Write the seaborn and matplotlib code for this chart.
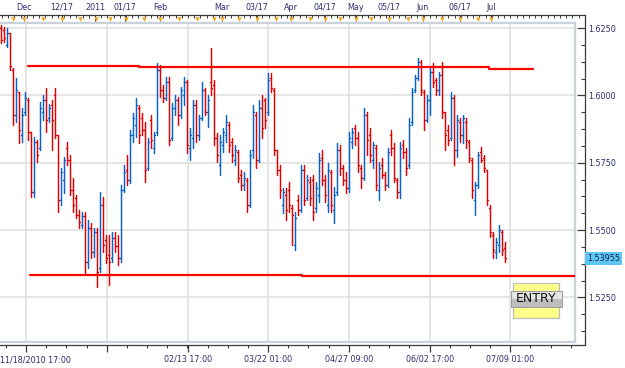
import numpy as np
import pandas as pd
import matplotlib
matplotlib.use("Agg")
import matplotlib.pyplot as plt
import matplotlib.transforms as mtrans
from matplotlib.patches import Rectangle
from matplotlib.ticker import MultipleLocator, FixedLocator
import seaborn as sns

# ---------------- data (GBP/USD style OHLC) ----------------
opens = [
    1.6251, 1.6244, 1.6188, 1.6233, 1.6095, 1.5928, 1.6013, 1.5854, 1.5939, 1.5984,
    1.5865, 1.5642, 1.5828, 1.5805, 1.5939, 1.5984, 1.5917, 1.5965, 1.6002, 1.5854,
    1.5612, 1.5686, 1.5805, 1.5761, 1.5649, 1.5620, 1.5556, 1.5519, 1.5553, 1.5382,
    1.5508, 1.5419, 1.5493, 1.5360, 1.5593, 1.5463, 1.5408, 1.5397, 1.5471, 1.5441,
    1.5397, 1.5649, 1.5724, 1.5686, 1.5854, 1.5891, 1.5954, 1.5917, 1.5872, 1.5731,
    1.5909, 1.5805, 1.5865, 1.6095, 1.6021, 1.5991, 1.6050, 1.5842, 1.5954, 1.5984,
    1.5928, 1.6002, 1.6050, 1.5805, 1.5842, 1.5965, 1.5854, 1.5917, 1.6021, 1.5939,
    1.6050, 1.6039, 1.5842, 1.5742, 1.5816, 1.5854, 1.5891, 1.5828, 1.5761, 1.5790,
    1.5705, 1.5668, 1.5686, 1.5593, 1.5798, 1.5928, 1.5761, 1.5954, 1.5984, 1.5939,
    1.6065, 1.6021, 1.5798, 1.5724, 1.5593, 1.5631, 1.5649, 1.5582, 1.5445, 1.5612,
    1.5575, 1.5724, 1.5620, 1.5679, 1.5686, 1.5582, 1.5631, 1.5768, 1.5686, 1.5593,
    1.5716, 1.5575, 1.5642, 1.5798, 1.5731, 1.5686, 1.5657, 1.5828, 1.5879, 1.5842,
    1.5731, 1.5694, 1.5928, 1.5854, 1.5761, 1.5805, 1.5649, 1.5742, 1.5705, 1.5668,
    1.5854, 1.5805, 1.5686, 1.5642, 1.5816, 1.5790, 1.5742, 1.5902, 1.6021, 1.6065,
    1.6124, 1.6013, 1.5909, 1.5984, 1.6087, 1.6058, 1.6021, 1.6076, 1.5939, 1.5872,
    1.5842, 1.5991, 1.5798, 1.5902, 1.5854, 1.5902, 1.5828, 1.5761, 1.5612, 1.5668,
    1.5790, 1.5768, 1.5724, 1.5582, 1.5482, 1.5419, 1.5445, 1.5493, 1.5434,
]
highs = [
    1.6262, 1.6255, 1.6251, 1.6233, 1.6102, 1.6065, 1.6013, 1.5954, 1.6013, 1.5991,
    1.5865, 1.5846, 1.5835, 1.5976, 1.6002, 1.6028, 1.5969, 1.5984, 1.6028, 1.5854,
    1.5731, 1.5772, 1.5828, 1.5779, 1.5694, 1.5631, 1.5575, 1.5567, 1.5567, 1.5538,
    1.5527, 1.5508, 1.5508, 1.5642, 1.5623, 1.5482, 1.5482, 1.5493, 1.5493, 1.5482,
    1.5668, 1.5742, 1.5779, 1.5872, 1.5935, 1.5991, 1.5965, 1.5935, 1.5902, 1.5842,
    1.5928, 1.5865, 1.6121, 1.6114, 1.6039, 1.6069, 1.6069, 1.5972, 1.6002, 1.5994,
    1.6032, 1.6069, 1.6058, 1.5879, 1.5984, 1.5984, 1.5928, 1.6050, 1.6028, 1.6002,
    1.6176, 1.6058, 1.5861, 1.5854, 1.5879, 1.5928, 1.5902, 1.5842, 1.5816, 1.5798,
    1.5724, 1.5716, 1.5694, 1.5798, 1.5965, 1.5939, 1.5984, 1.6002, 1.5991, 1.6084,
    1.6084, 1.6028, 1.5798, 1.5742, 1.5657, 1.5657, 1.5679, 1.5593, 1.5567, 1.5631,
    1.5742, 1.5742, 1.5705, 1.5697, 1.5705, 1.5679, 1.5787, 1.5798, 1.5705, 1.5750,
    1.5724, 1.5660, 1.5824, 1.5816, 1.5742, 1.5716, 1.5865, 1.5879, 1.5891, 1.5865,
    1.5742, 1.5954, 1.5939, 1.5879, 1.5828, 1.5816, 1.5753, 1.5768, 1.5716, 1.5805,
    1.5872, 1.5824, 1.5694, 1.5828, 1.5835, 1.5805, 1.5917, 1.6028, 1.6076, 1.6139,
    1.6132, 1.6021, 1.6002, 1.6102, 1.6121, 1.6065, 1.6087, 1.6124, 1.5939, 1.5891,
    1.6013, 1.6002, 1.5928, 1.5917, 1.5928, 1.5917, 1.5835, 1.5768, 1.5679, 1.5790,
    1.5809, 1.5779, 1.5724, 1.5593, 1.5493, 1.5471, 1.5519, 1.5501, 1.5456,
]
lows = [
    1.6195, 1.6199, 1.6180, 1.6095, 1.5891, 1.5902, 1.5824, 1.5828, 1.5928, 1.5835,
    1.5623, 1.5623, 1.5753, 1.5798, 1.5909, 1.5865, 1.5902, 1.5798, 1.5842, 1.5567,
    1.5593, 1.5638, 1.5742, 1.5631, 1.5567, 1.5545, 1.5508, 1.5508, 1.5341, 1.5360,
    1.5397, 1.5400, 1.5289, 1.5345, 1.5419, 1.5378, 1.5296, 1.5382, 1.5419, 1.5371,
    1.5382, 1.5642, 1.5668, 1.5675, 1.5828, 1.5846, 1.5824, 1.5854, 1.5679, 1.5724,
    1.5805, 1.5787, 1.5854, 1.5994, 1.5976, 1.5984, 1.5816, 1.5835, 1.5928, 1.5891,
    1.5917, 1.5965, 1.5787, 1.5761, 1.5805, 1.5828, 1.5835, 1.5909, 1.5928, 1.5883,
    1.6002, 1.5816, 1.5753, 1.5705, 1.5790, 1.5828, 1.5790, 1.5753, 1.5742, 1.5679,
    1.5649, 1.5649, 1.5567, 1.5586, 1.5768, 1.5731, 1.5753, 1.5842, 1.5879, 1.5928,
    1.6013, 1.5779, 1.5705, 1.5620, 1.5564, 1.5538, 1.5567, 1.5445, 1.5426, 1.5556,
    1.5567, 1.5593, 1.5612, 1.5593, 1.5538, 1.5567, 1.5605, 1.5668, 1.5605, 1.5567,
    1.5567, 1.5527, 1.5631, 1.5705, 1.5668, 1.5638, 1.5642, 1.5805, 1.5816, 1.5716,
    1.5657, 1.5686, 1.5779, 1.5753, 1.5731, 1.5649, 1.5612, 1.5694, 1.5649, 1.5660,
    1.5779, 1.5679, 1.5620, 1.5620, 1.5768, 1.5705, 1.5731, 1.5891, 1.6013, 1.6058,
    1.6002, 1.5872, 1.5902, 1.5928, 1.6032, 1.6002, 1.6002, 1.5917, 1.5798, 1.5816,
    1.5835, 1.5742, 1.5772, 1.5828, 1.5824, 1.5805, 1.5753, 1.5620, 1.5556, 1.5657,
    1.5753, 1.5716, 1.5593, 1.5475, 1.5397, 1.5397, 1.5419, 1.5408, 1.5382,
]
closes = [
    1.6206, 1.6214, 1.6233, 1.6110, 1.5928, 1.6021, 1.5872, 1.5928, 1.5991, 1.5865,
    1.5642, 1.5828, 1.5779, 1.5954, 1.5984, 1.5909, 1.5954, 1.5909, 1.5854, 1.5612,
    1.5716, 1.5761, 1.5761, 1.5649, 1.5593, 1.5556, 1.5530, 1.5553, 1.5382, 1.5508,
    1.5419, 1.5493, 1.5345, 1.5593, 1.5445, 1.5397, 1.5382, 1.5471, 1.5441, 1.5397,
    1.5649, 1.5716, 1.5686, 1.5854, 1.5917, 1.5965, 1.5854, 1.5872, 1.5724, 1.5828,
    1.5835, 1.5854, 1.6095, 1.6021, 1.5991, 1.6050, 1.5835, 1.5954, 1.5984, 1.5928,
    1.6021, 1.6050, 1.5816, 1.5854, 1.5965, 1.5854, 1.5917, 1.6021, 1.5939, 1.5984,
    1.6028, 1.5842, 1.5779, 1.5828, 1.5865, 1.5902, 1.5816, 1.5779, 1.5798, 1.5694,
    1.5668, 1.5694, 1.5593, 1.5779, 1.5939, 1.5761, 1.5954, 1.5879, 1.5909, 1.6058,
    1.6028, 1.5798, 1.5724, 1.5649, 1.5642, 1.5575, 1.5593, 1.5556, 1.5545, 1.5575,
    1.5724, 1.5612, 1.5686, 1.5620, 1.5567, 1.5657, 1.5761, 1.5686, 1.5631, 1.5724,
    1.5593, 1.5631, 1.5798, 1.5731, 1.5686, 1.5657, 1.5842, 1.5865, 1.5842, 1.5742,
    1.5694, 1.5928, 1.5835, 1.5779, 1.5816, 1.5668, 1.5731, 1.5705, 1.5668, 1.5790,
    1.5805, 1.5694, 1.5642, 1.5805, 1.5790, 1.5731, 1.5891, 1.6013, 1.6065, 1.6124,
    1.6021, 1.5909, 1.5984, 1.6087, 1.6050, 1.6021, 1.6076, 1.5939, 1.5854, 1.5835,
    1.5991, 1.5798, 1.5909, 1.5854, 1.5917, 1.5835, 1.5768, 1.5649, 1.5668, 1.5779,
    1.5761, 1.5731, 1.5612, 1.5493, 1.5426, 1.5456, 1.5501, 1.5426, 1.5396,
]

# horizontal levels drawn on the chart (price, start bar, end bar)
upper_levels = [1.6108, 1.6105, 1.6100]
upper_starts = [9.0, 46.0, 162.7]
upper_ends = [46.0, 162.7, 177.3]
lower_levels = [1.5333, 1.5330]
lower_starts = [9.7, 100.3]
lower_ends = [100.3, 191.4]

price_ticks = [1.5250, 1.5500, 1.5750, 1.6000, 1.6250]
price_labels = ["1.5250", "1.5500", "1.5750", "1.6000", "1.6250"]
bottom_labels = ["", "", "02/13 17:00", "03/22 01:00", "04/27 09:00", "06/02 17:00", "07/09 01:00"]
first_bottom_label = "11/18/2010 17:00"
top_labels = ["Dec", "12/17", "2011", "01/17", "Feb", "Mar", "03/17", "Apr",
              "04/17", "May", "05/17", "Jun", "06/17", "Jul"]
last_price_text = "1.53955"
last_price = 1.53955

# ---------------- layout helpers (pixels of a 625x368 canvas) ----------------
W, H = 625, 368
def px2idx(px):
    return (px - 1) / 3.0
K = 0.025 / 67.3            # price per pixel
def py2price(py):
    return 1.6000 - (py - 95.5) * K

BLUE = "#0863C9"
RED = "#E30000"
LABEL_C = "#2E2E72"

sns.set_style("white")
plt.rcParams["font.family"] = ["DejaVu Sans"]

fig = plt.figure(figsize=(W / 100, H / 100), dpi=100)
fig.patch.set_facecolor("white")

# main plotting area
ax = fig.add_axes([0, (H - 342) / H, 575 / W, (342 - 23) / H])

n = len(opens)
rows = []
for i in range(n):
    d = "up" if closes[i] >= opens[i] else "down"
    rows.append((i, highs[i], 3 * i, d))
    rows.append((i, lows[i], 3 * i, d))
    rows.append((i - 0.45, opens[i], 3 * i + 1, d))
    rows.append((i, opens[i], 3 * i + 1, d))
    rows.append((i, closes[i], 3 * i + 2, d))
    rows.append((i + 0.45, closes[i], 3 * i + 2, d))
bars = pd.DataFrame(rows, columns=["x", "price", "seg", "dir"])

sns.lineplot(data=bars, x="x", y="price", units="seg", estimator=None,
             hue="dir", palette={"up": BLUE, "down": RED}, sort=False,
             legend=False, linewidth=1.05, ax=ax, zorder=3)

lv = []
sid = 0
for lvls, st, en in ((upper_levels, upper_starts, upper_ends),
                     (lower_levels, lower_starts, lower_ends)):
    for p, a, b in zip(lvls, st, en):
        lv.append((a, p, sid))
        lv.append((b, p, sid))
        sid += 1
levels = pd.DataFrame(lv, columns=["x", "price", "seg"])
sns.lineplot(data=levels, x="x", y="price", units="seg", estimator=None,
             color="#FF0000", sort=False, linewidth=1.6, ax=ax, zorder=4)

ax.set_xlim(px2idx(0), px2idx(575))
ax.set_ylim(py2price(342), py2price(23))
major_px = [26, 107, 188, 268, 349, 430, 510]
ax.set_xticks([px2idx(p) for p in major_px])
ax.set_yticks(price_ticks)
ax.grid(True, color="#DEDEDE", linewidth=1.1)
ax.set_axisbelow(True)
ax.tick_params(length=0, labelbottom=False, labelleft=False)
ax.set_xlabel("")
ax.set_ylabel("")
for s in ("top", "right", "bottom"):
    ax.spines[s].set_color("#C9D1DB")
    ax.spines[s].set_linewidth(1.6)
ax.spines["left"].set_visible(False)

# frame axes: bottom time axis, right price axis, top ruler
ax2 = fig.add_axes([0, (H - 345) / H, 585 / W, (345 - 15) / H])
ax2.patch.set_visible(False)
ax2.set_xlim(px2idx(0), px2idx(585))
ax2.set_ylim(py2price(345), py2price(15))
for s in ("bottom", "right", "top"):
    ax2.spines[s].set_color("#3A3A3A")
    ax2.spines[s].set_linewidth(0.9)
ax2.spines["left"].set_visible(False)

ax2.set_xticks([px2idx(p) for p in major_px])
ax2.set_xticklabels(bottom_labels)
step = 80.7 / 4
minor_px = np.arange(26 - step, 585, step)
ax2.xaxis.set_minor_locator(FixedLocator([px2idx(p) for p in minor_px if p > 0]))
ax2.tick_params(axis="x", which="major", direction="out", length=5, width=0.9,
                color="#3A3A3A", pad=2, labelsize=5.8, labelcolor=LABEL_C,
                top=False, bottom=True)
ax2.tick_params(axis="x", which="minor", direction="out", length=2.5, width=0.8,
                color="#3A3A3A", top=False, bottom=True)
ax2.text(0, -0.032, first_bottom_label, transform=ax2.transAxes, ha="left",
         va="top", fontsize=5.8, color=LABEL_C)

ax2.yaxis.tick_right()
ax2.set_yticks(price_ticks)
ax2.set_yticklabels(price_labels)
ax2.yaxis.set_minor_locator(MultipleLocator(0.00625))
ax2.tick_params(axis="y", which="major", direction="in", length=6, width=0.9,
                color="#3A3A3A", pad=2, labelsize=5.8, labelcolor=LABEL_C,
                left=False, right=True, labelright=True, labelleft=False)
ax2.tick_params(axis="y", which="minor", direction="in", length=3, width=0.8,
                color="#3A3A3A", left=False, right=True)

# highlighted last price
ax2.text(1.004, last_price, last_price_text,
         transform=mtrans.blended_transform_factory(ax2.transAxes, ax2.transData),
         ha="left", va="center", fontsize=5.8, color="#1E1E50",
         bbox=dict(boxstyle="square,pad=0.25", fc="#5CC6F2", ec="none"))

# top ruler
top_px = [24, 62, 95, 125, 160, 222, 257, 291, 325, 356, 389, 423, 460, 491]
secax = ax2.secondary_xaxis("top")
secax.set_xticks([px2idx(p) for p in top_px])
secax.set_xticklabels(top_labels)
secax.xaxis.set_minor_locator(FixedLocator([px2idx(p) for p in np.arange(2, 585, 6.2)]))
secax.tick_params(axis="x", which="major", direction="in", length=4, width=0.8,
                  color="#3A3A3A", pad=2.2, labelsize=5.8, labelcolor=LABEL_C)
secax.tick_params(axis="x", which="minor", direction="in", length=2.5, width=0.7,
                  color="#3A3A3A")
secax.spines["top"].set_visible(False)

orange_px = [13, 24, 43, 62, 80, 96, 110, 126, 144, 160, 179, 197, 214, 222, 239,
             257, 276, 291, 310, 325, 340, 356, 371, 389, 408, 423, 442, 460, 478, 491]
ax2.scatter([px2idx(p) for p in orange_px], [0.988] * len(orange_px),
            transform=mtrans.blended_transform_factory(ax2.transData, ax2.transAxes),
            marker="v", s=11, color="#F5A623", linewidths=0, clip_on=False, zorder=5)

# ENTRY label box
fig.add_artist(Rectangle((513 / W, (H - 318) / H), 46 / W, 35 / H,
                         transform=fig.transFigure, fc="#FFFF8A", ec="#BDBDBD", lw=0.9))
fig.add_artist(Rectangle((511 / W, (H - 299) / H), 51 / W, 8 / H,
                         transform=fig.transFigure, fc="#E4E4E4", ec="none"))
fig.add_artist(Rectangle((511 / W, (H - 307) / H), 51 / W, 8 / H,
                         transform=fig.transFigure, fc="#BEBEBE", ec="none"))
fig.add_artist(Rectangle((511 / W, (H - 307) / H), 51 / W, 16 / H,
                         transform=fig.transFigure, fc="none", ec="#9A9A9A", lw=0.7))
fig.text(536.5 / W, (H - 299) / H, "ENTRY", ha="center", va="center",
         fontsize=9, color="#111111")

fig.savefig("out.png", dpi=100)
